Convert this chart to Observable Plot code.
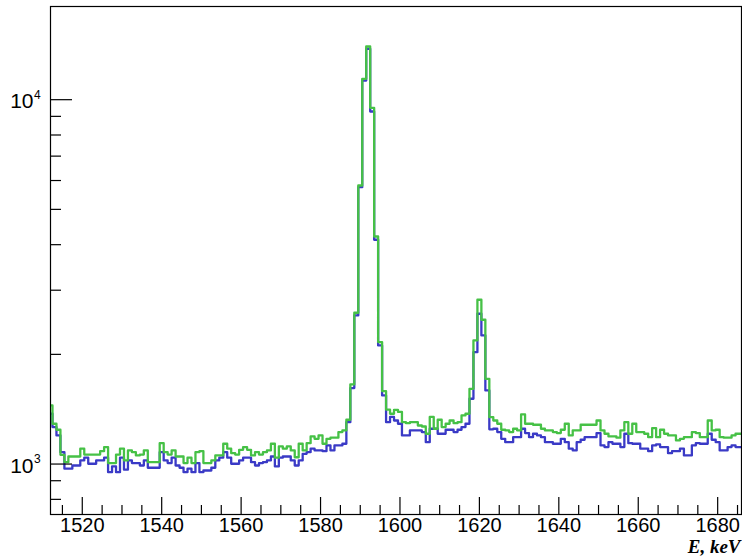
<!DOCTYPE html>
<html>
<head>
<meta charset="utf-8">
<script src="https://cdn.jsdelivr.net/npm/d3@7"></script>
<script src="https://cdn.jsdelivr.net/npm/@observablehq/plot@0.6"></script>
<style>
  html, body { margin: 0; padding: 0; background: #ffffff; }
  #chart svg { display: block; }
</style>
</head>
<body>
<div id="chart"></div>
<script>
// Histogram: 1 keV bins, first bin centred at 1512 keV
const energyStart = 1512;

const greenCounts = [
  1448, 1290, 1242, 1060, 1012, 1049, 1049, 1049, 1102, 1062,
  1062, 1062, 1062, 1085, 1113, 1006, 1006, 1062, 1102, 1023,
  1090, 1078, 1056, 1062, 1090, 1012, 1012, 1012, 1141, 1078,
  1062, 1090, 1049, 1049, 1006, 1041, 1006, 1078, 1085, 1006,
  1006, 1023, 1056, 1056, 1137, 1102, 1071, 1062, 1094, 1113,
  1094, 1056, 1078, 1062, 1078, 1090, 1137, 1041, 1118, 1102,
  1118, 1090, 1044, 1137, 1090, 1141, 1191, 1173, 1198, 1137,
  1173, 1181, 1181, 1224, 1237, 1323, 1654, 2602, 5815, 11412,
  13996, 9501, 4212, 2161, 1585, 1410, 1374, 1409, 1390, 1303,
  1295, 1303, 1303, 1276, 1268, 1211, 1347, 1250, 1323, 1263,
  1290, 1317, 1295, 1303, 1360, 1374, 1609, 2184, 2824, 2489,
  1714, 1345, 1317, 1290, 1242, 1237, 1224, 1250, 1237, 1368,
  1290, 1290, 1282, 1282, 1250, 1237, 1237, 1224, 1216, 1242,
  1290, 1198, 1237, 1237, 1282, 1282, 1282, 1282, 1317, 1237,
  1211, 1191, 1191, 1181, 1237, 1303, 1211, 1290, 1224, 1224,
  1211, 1185, 1255, 1185, 1242, 1211, 1198, 1198, 1161, 1173,
  1185, 1185, 1224, 1216, 1185, 1185, 1317, 1237, 1242, 1185,
  1181, 1181, 1198, 1211, 1211
];

const blueCounts = [
  1374, 1263, 1198, 1078, 971, 971, 991, 991, 1023, 1041,
  1002, 1002, 1023, 1023, 1041, 950, 985, 950, 1041, 965,
  1023, 1006, 1006, 991, 1023, 977, 977, 977, 1078, 1023,
  1006, 1041, 991, 977, 950, 971, 950, 1006, 950, 960,
  960, 977, 1023, 1041, 1078, 1041, 1002, 1002, 1023, 1041,
  1041, 1012, 991, 1006, 1012, 1023, 1049, 985, 1041, 1049,
  1049, 1023, 991, 1023, 1067, 1078, 1102, 1090, 1090, 1085,
  1125, 1090, 1125, 1125, 1137, 1303, 1616, 2558, 5753, 11290,
  13797, 9282, 4126, 2116, 1543, 1303, 1347, 1317, 1290, 1198,
  1198, 1237, 1237, 1237, 1224, 1148, 1250, 1250, 1211, 1211,
  1242, 1242, 1224, 1242, 1263, 1290, 1511, 2028, 2585, 2254,
  1592, 1245, 1250, 1224, 1173, 1148, 1148, 1185, 1185, 1250,
  1216, 1185, 1211, 1198, 1185, 1148, 1148, 1137, 1137, 1173,
  1148, 1102, 1090, 1148, 1166, 1185, 1185, 1185, 1216, 1125,
  1113, 1148, 1137, 1137, 1113, 1211, 1141, 1137, 1137, 1102,
  1102, 1085, 1125, 1132, 1113, 1113, 1071, 1085, 1085, 1102,
  1056, 1056, 1125, 1141, 1137, 1137, 1211, 1166, 1148, 1090,
  1090, 1113, 1125, 1113, 1113
];

const xDomain = [1512, 1686];
const yDomain = [727, 18020];
const xMajorTicks = [1520, 1540, 1560, 1580, 1600, 1620, 1640, 1660, 1680];
const xMinorTicks = [1515, 1525, 1530, 1535, 1545, 1550, 1555, 1565, 1570, 1575,
  1585, 1590, 1595, 1605, 1610, 1615, 1625, 1630, 1635, 1645, 1650, 1655,
  1665, 1670, 1675, 1685];
const yMajorTicks = [1000, 10000];
const yMajorExponents = ["3", "4"];
const yMinorTicks = [800, 900, 2000, 3000, 4000, 5000, 6000, 7000, 8000, 9000];
const xTitle = "E, keV";

const bins = greenCounts.map((g, i) => ({ e: energyStart + i, green: g, blue: blueCounts[i] }));

const W = 742, H = 557;
const mL = 50, mR = 1, mT = 6, mB = 43;
const frameW = W - mL - mR;
const frameH = H - mT - mB;

const sans = "'Liberation Sans', Arial, Helvetica, sans-serif";

const chart = Plot.plot({
  width: W,
  height: H,
  marginLeft: mL,
  marginRight: mR,
  marginTop: mT,
  marginBottom: mB,
  style: { background: "#ffffff", fontFamily: sans },
  x: { domain: xDomain, axis: null },
  y: { type: "log", domain: yDomain, axis: null },
  marks: [
    Plot.lineY(bins, { x: "e", y: "blue", curve: "step", stroke: "#3a3ac6", strokeWidth: 2.3, clip: true }),
    Plot.lineY(bins, { x: "e", y: "green", curve: "step", stroke: "#46c146", strokeWidth: 2.3, clip: true }),
    Plot.frame({ stroke: "#000000", strokeWidth: 1.2 }),
    Plot.ruleX(xMajorTicks, { x: d => d, insetTop: frameH - 17, stroke: "#000000", strokeWidth: 1.2 }),
    Plot.ruleX(xMinorTicks, { x: d => d, insetTop: frameH - 9, stroke: "#000000", strokeWidth: 1.2 }),
    Plot.ruleY(yMajorTicks, { y: d => d, insetRight: frameW - 22, stroke: "#000000", strokeWidth: 1.2 }),
    Plot.ruleY(yMinorTicks, { y: d => d, insetRight: frameW - 11, stroke: "#000000", strokeWidth: 1.2 }),
    Plot.text(xMajorTicks, {
      x: d => d, frameAnchor: "bottom", dy: 11.4, text: d => String(d),
      fontSize: 20, fill: "#000000", textAnchor: "middle", lineAnchor: "middle", fontFamily: sans
    }),
    Plot.text(yMajorTicks, {
      y: d => d, frameAnchor: "left", dx: -17, dy: 2, text: () => "10",
      fontSize: 21, fill: "#000000", textAnchor: "end", lineAnchor: "middle", fontFamily: sans
    }),
    Plot.text(yMajorTicks, {
      y: d => d, frameAnchor: "left", dx: -16.5, dy: -4.5, text: (d, i) => yMajorExponents[i],
      fontSize: 12, fill: "#000000", textAnchor: "start", lineAnchor: "middle", fontFamily: sans
    }),
    Plot.text([xTitle], {
      frameAnchor: "bottom-right", dx: -1, dy: 32.9, text: d => d,
      fontSize: 19, fontWeight: "bold", fontStyle: "italic", fill: "#000000",
      textAnchor: "end", lineAnchor: "middle", fontFamily: "'Liberation Serif', 'Times New Roman', serif"
    })
  ]
});

document.getElementById("chart").appendChild(chart);
</script>
</body>
</html>
